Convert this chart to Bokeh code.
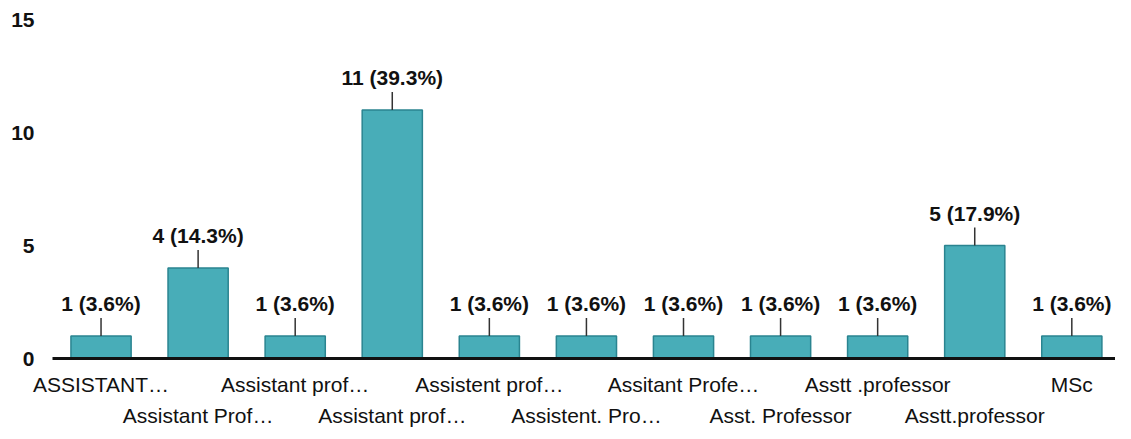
import math
from bokeh.plotting import figure
from bokeh.models import ColumnDataSource, FixedTicker, LinearAxis, Range1d, LabelSet
from bokeh.core.properties import value
from bokeh.embed import file_html
from bokeh.resources import INLINE

categories = ["ASSISTANT\u2026", "Assistant Prof\u2026", "Assistant prof\u2026", "Assistant prof\u2026",
              "Assistent prof\u2026", "Assistent. Pro\u2026", "Assitant Profe\u2026", "Asst. Professor",
              "Asstt .professor", "Asstt.professor", "MSc"]
counts = [1, 4, 1, 11, 1, 1, 1, 1, 1, 5, 1]
y_ticks = [0, 5, 10, 15]

total = sum(counts)
xs = list(range(1, len(categories) + 1))
labels = [f"{c} ({c / total * 100:.1f}%)" for c in counts]

src = ColumnDataSource(dict(x=xs, top=counts, label=labels))

FONT = "Liberation Sans"

p = figure(width=1115, height=431, output_backend="svg", toolbar_location=None,
           x_range=Range1d(0.5, 11.45), y_range=Range1d(0, 15),
           min_border_left=52, min_border_right=0, min_border_top=19, min_border_bottom=73,
           x_axis_type=None)
p.background_fill_color = "white"
p.border_fill_color = "white"
p.outline_line_color = None
p.grid.visible = False

p.vbar(x="x", top="top", bottom=0, width=0.62, source=src,
       fill_color="#48adb8", line_color="#2a8490", line_width=1.5)
p.ray(x="x", y="top", length=18, length_units="screen", angle=math.pi / 2,
      source=src, line_color="#333333", line_width=1.5)
p.add_layout(LabelSet(x="x", y="top", text="label", source=src, y_offset=21,
                      text_align="center", text_baseline="bottom",
                      text_font=value(FONT), text_font_style="bold", text_font_size="21px",
                      text_color="#111111"))

# y axis
ya = p.yaxis[0]
ya.ticker = FixedTicker(ticks=y_ticks)
ya.axis_line_color = None
ya.major_tick_line_color = None
ya.minor_tick_line_color = None
ya.major_tick_out = 0
ya.major_label_standoff = 18
ya.major_label_text_font = FONT
ya.major_label_text_font_style = "bold"
ya.major_label_text_font_size = "21px"
ya.major_label_text_color = "#111111"

# x axes: staggered category labels
odd_idx = xs[0::2]
even_idx = xs[1::2]
ax1 = LinearAxis(ticker=FixedTicker(ticks=odd_idx),
                 major_label_overrides={x: categories[x - 1] for x in odd_idx})
ax2 = LinearAxis(ticker=FixedTicker(ticks=even_idx),
                 major_label_overrides={x: categories[x - 1] for x in even_idx})
for ax in [ax1, ax2]:
    ax.major_tick_line_color = None
    ax.minor_tick_line_color = None
    ax.major_tick_out = 0
    ax.major_tick_in = 0
    ax.major_label_text_font = FONT
    ax.major_label_text_font_size = "21px"
    ax.major_label_text_color = "#111111"
ax1.axis_line_color = "#111111"
ax1.axis_line_width = 3
ax1.major_label_standoff = 14
ax2.axis_line_color = None
ax2.major_label_standoff = 5
p.add_layout(ax1, "below")
p.add_layout(ax2, "below")

open("out.html", "w").write(file_html(p, INLINE))
